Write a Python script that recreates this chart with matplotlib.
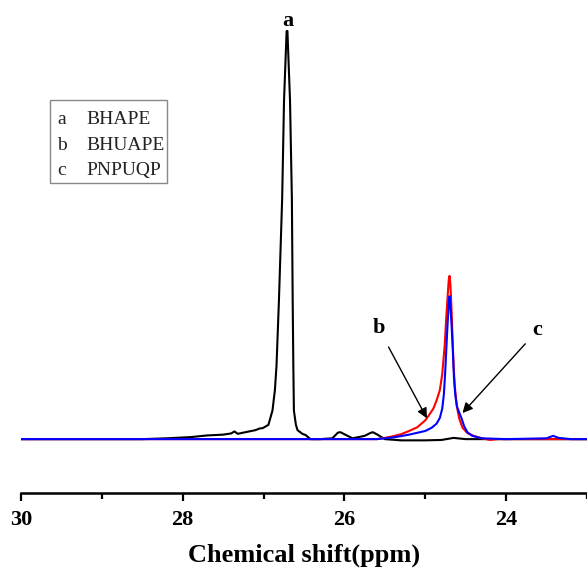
import numpy as np
import matplotlib.pyplot as plt
from matplotlib.patches import Rectangle
from matplotlib.ticker import MultipleLocator

# --- datos (ppm, intensidad relativa, pico a = 100) ---
ppm_a = [30.0, 28.5, 28.2, 27.9, 27.7, 27.5, 27.4, 27.36, 27.32, 27.2, 27.1,
         27.05, 27.01, 26.94, 26.89, 26.86, 26.84, 26.81, 26.77, 26.747, 26.715,
         26.705, 26.673, 26.65, 26.64, 26.632, 26.625, 26.60, 26.58, 26.52,
         26.48, 26.42, 26.3, 26.15, 26.08, 26.05, 26.0, 25.9, 25.75, 25.68,
         25.65, 25.6, 25.5, 25.3, 25.0, 24.8, 24.65, 24.5, 24.3, 24.0, 23.5, 23.0]
int_a = [0, 0, 0.2, 0.5, 0.9, 1.1, 1.4, 1.9, 1.3, 1.8, 2.2,
         2.6, 2.7, 3.5, 7, 12, 18, 34, 59, 83, 100,
         100, 83, 59, 34, 18, 7, 3.5, 2.2, 1.3,
         1.0, 0, 0, 0.2, 1.6, 1.7, 1.2, 0.2, 0.8, 1.5,
         1.7, 1.2, 0, -0.3, -0.3, -0.2, 0.3, 0, 0, 0, 0, 0]

ppm_b = [30.0, 25.6, 25.5, 25.4, 25.3, 25.2, 25.1, 25.0, 24.95, 24.9, 24.86,
         24.82, 24.79, 24.76, 24.74, 24.72, 24.71, 24.70, 24.69, 24.68, 24.665,
         24.65, 24.635, 24.62, 24.60, 24.58, 24.54, 24.48, 24.40, 24.3, 24.2,
         24.1, 23.0]
int_b = [0, 0, 0.3, 0.7, 1.2, 2.0, 2.9, 4.6, 6, 7.5, 9.5,
         12, 16, 23, 30, 36, 39, 40, 38, 34, 26,
         18, 13, 10, 7, 5, 2.8, 1.5, 0.8, 0.2, -0.2,
         0, 0]

ppm_c = [30.0, 25.6, 25.4, 25.2, 25.0, 24.92, 24.86, 24.82, 24.79, 24.77,
         24.755, 24.74, 24.725, 24.71, 24.70, 24.69, 24.675, 24.66, 24.645,
         24.63, 24.61, 24.58, 24.55, 24.52, 24.48, 24.42, 24.3, 24.0, 23.5,
         23.42, 23.35, 23.2, 23.0]
int_c = [0, 0, 0.4, 1.1, 2.0, 2.8, 3.8, 5.2, 7.5, 11,
         16, 22, 28, 33, 35, 33, 28, 22, 15,
         11, 8, 6.5, 5, 3.2, 1.7, 0.8, 0.2, 0, 0.2,
         0.8, 0.3, 0, 0]

leyenda_letras = ['a', 'b', 'c']
leyenda_nombres = ['BHAPE', 'BHUAPE', 'PNPUQP']
ticks_mayores = [30, 28, 26, 24]

W, H = 587, 569
fig = plt.figure(figsize=(W / 100, H / 100), dpi=100)
ax = fig.add_axes([21 / W, 76 / H, 1 - 21 / W, 493 / H])

ax.plot(ppm_a, int_a, color='black', lw=1.5)
ax.plot(ppm_b, int_b, color='red', lw=1.5)
ax.plot(ppm_c, int_c, color='blue', lw=1.5)

ax.set_xlim(30, 23)
ax.set_ylim(-13.2, 107.6)

for s in ['top', 'left', 'right']:
    ax.spines[s].set_visible(False)
ax.spines['bottom'].set_linewidth(1.8)
ax.set_yticks([])
ax.set_xticks(ticks_mayores)
ax.xaxis.set_minor_locator(MultipleLocator(1))
ax.tick_params(axis='x', which='major', direction='out', length=6, width=1.6, pad=6)
ax.tick_params(axis='x', which='minor', direction='out', length=4, width=1.6)
for lbl in ax.get_xticklabels():
    lbl.set_fontfamily('Liberation Serif')
    lbl.set_fontweight('bold')
    lbl.set_fontsize(16)
ax.set_xlabel('Chemical shift(ppm)', fontfamily='Liberation Serif',
              fontweight='bold', fontsize=19, labelpad=10)

# etiquetas de los picos
fuente = dict(fontfamily='Liberation Serif', fontweight='bold', fontsize=16)
ax.text(26.70, 102.5, 'a', ha='center', va='center', **fuente)
ax.annotate('b', xy=(24.98, 5.1), xytext=(25.58, 27.2), ha='center', va='center',
            arrowprops=dict(arrowstyle='-|>', color='black', lw=1,
                            mutation_scale=15, shrinkA=5, shrinkB=0), **fuente)
ax.annotate('c', xy=(24.54, 6.4), xytext=(23.61, 26.7), ha='center', va='center',
            arrowprops=dict(arrowstyle='-|>', color='black', lw=1,
                            mutation_scale=15, shrinkA=5, shrinkB=0), **fuente)

# caja de leyenda
fig.patches.append(Rectangle((50 / W, 1 - 183 / H), 117 / W, 83 / H,
                             transform=fig.transFigure, fill=False,
                             edgecolor='#888888', lw=1))
for i in range(len(leyenda_letras)):
    y = 1 - (120 + 25 * i) / H
    fig.text(57 / W, y, leyenda_letras[i], va='center', fontfamily='Liberation Serif',
             fontsize=14, color='#222222')
    fig.text(86 / W, y, leyenda_nombres[i], va='center', fontfamily='Liberation Serif',
             fontsize=14, color='#222222')

fig.savefig('out.png', dpi=100)
